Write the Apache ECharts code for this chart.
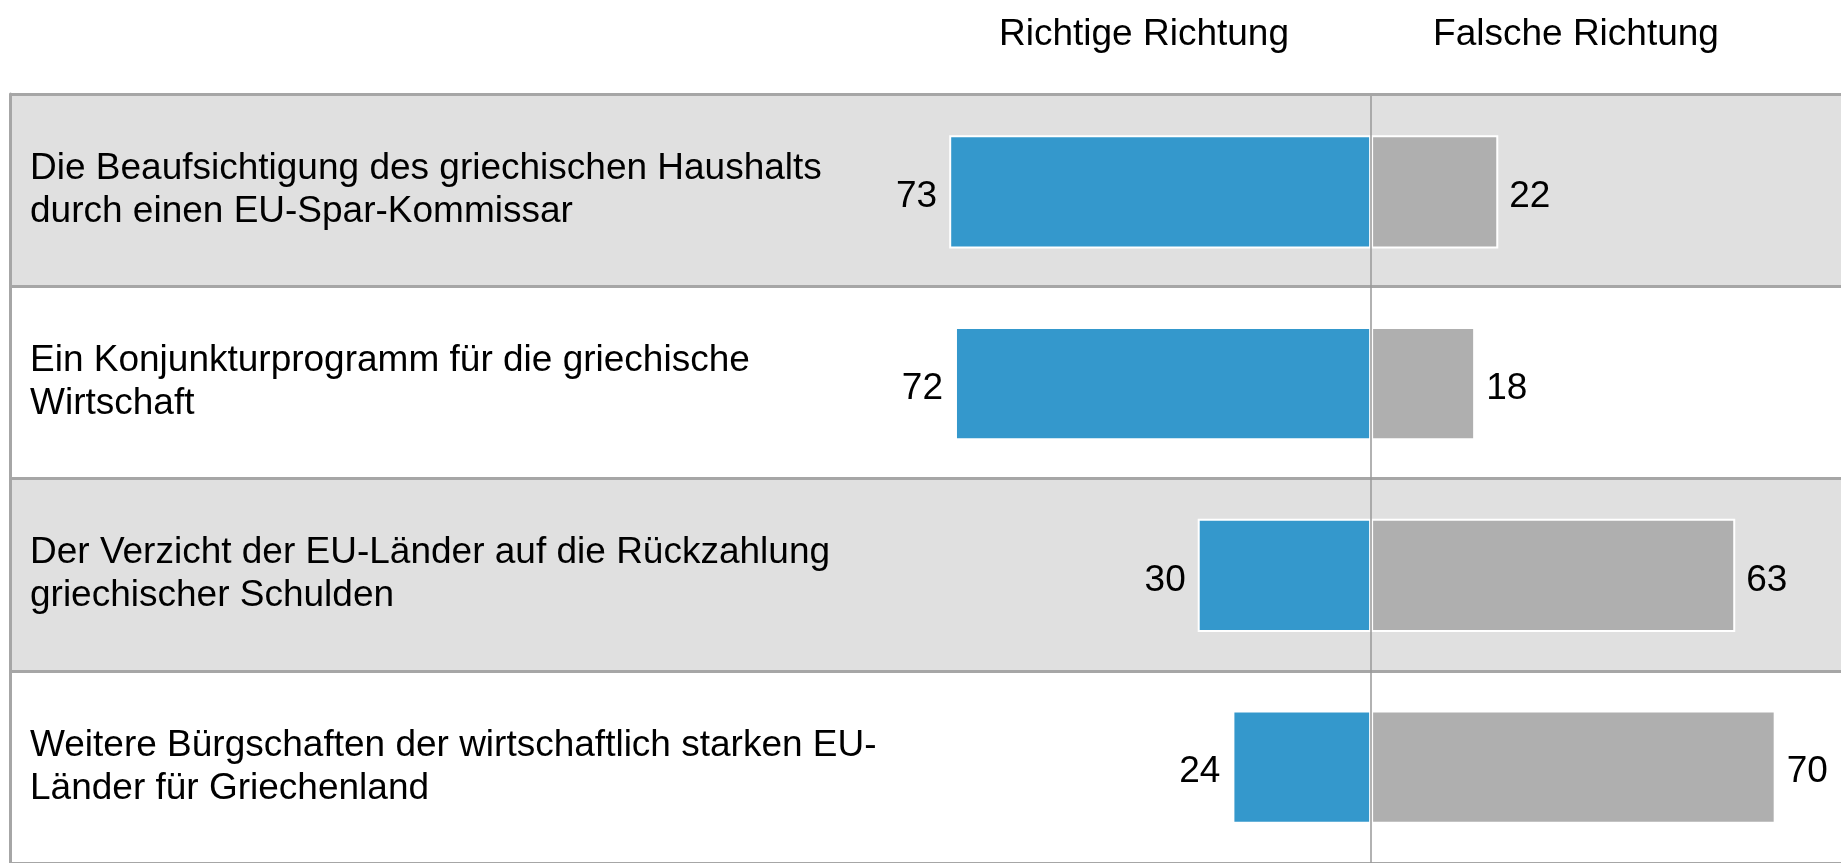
<!DOCTYPE html>
<html>
<head>
<meta charset="utf-8">
<script src="https://cdn.jsdelivr.net/npm/echarts@6/dist/echarts.min.js"></script>
<style>
  html, body { margin: 0; padding: 0; background: #fff; }
  #chart { width: 1841px; height: 863px; }
</style>
</head>
<body>
<div id="chart"></div>
<script>
const categories = [
  'Die Beaufsichtigung des griechischen Haushalts\ndurch einen EU-Spar-Kommissar',
  'Ein Konjunkturprogramm für die griechische\nWirtschaft',
  'Der Verzicht der EU-Länder auf die Rückzahlung\ngriechischer Schulden',
  'Weitere Bürgschaften der wirtschaftlich starken EU-\nLänder für Griechenland'
];
const seriesNames = ['Richtige Richtung', 'Falsche Richtung'];
const richtig = [73, 72, 30, 24];
const falsch = [22, 18, 63, 70];

const font = 'Liberation Sans, Arial, sans-serif';
const lineGray = '#a6a6a6';

let myChart = echarts.init(document.getElementById('chart'));

const numberLabel = {
  show: true,
  fontSize: 37,
  color: '#000',
  fontFamily: font,
  offset: [0, 5]
};

let option = {
  animation: false,
  textStyle: { fontFamily: font },
  grid: [
    // Zeilen (laufen unten aus dem Bild)
    { left: 10, top: 94, width: 1831, height: 772 },
    // Balken, leicht nach unten versetzt wie im Original
    { left: 10, top: 96, width: 1831, height: 772 }
  ],
  xAxis: [
    { type: 'value', gridIndex: 0, min: -235.5, max: 81.3, show: false },
    { type: 'value', gridIndex: 1, min: -235.5, max: 81.3, show: false }
  ],
  yAxis: [
    {
      type: 'category',
      gridIndex: 0,
      inverse: true,
      data: categories,
      axisLine: { show: true, onZero: false, lineStyle: { color: lineGray, width: 3 } },
      axisTick: { show: false },
      axisLabel: {
        inside: true,
        margin: 20,
        fontSize: 37,
        lineHeight: 43,
        padding: [10, 0, 0, 0],
        color: '#000',
        fontFamily: font
      },
      splitLine: { show: true, lineStyle: { color: lineGray, width: 3 } },
      splitArea: { show: true, areaStyle: { color: ['#e0e0e0', '#ffffff'] } }
    },
    {
      type: 'category',
      gridIndex: 1,
      inverse: true,
      data: categories,
      show: false
    }
  ],
  graphic: [
    {
      type: 'text',
      x: 1144,
      y: 35,
      style: { text: seriesNames[0], font: '37px ' + font, fill: '#000', textAlign: 'center', textVerticalAlign: 'middle' }
    },
    {
      type: 'text',
      x: 1576,
      y: 35,
      style: { text: seriesNames[1], font: '37px ' + font, fill: '#000', textAlign: 'center', textVerticalAlign: 'middle' }
    }
  ],
  series: [
    {
      name: seriesNames[0],
      type: 'bar',
      xAxisIndex: 1,
      yAxisIndex: 1,
      stack: 'total',
      barCategoryGap: '41%',
      data: richtig.map(v => -v),
      itemStyle: { color: '#3498cc', borderColor: '#ffffff', borderWidth: 2 },
      label: Object.assign({}, numberLabel, {
        position: 'left',
        distance: 12,
        formatter: p => Math.abs(p.value)
      })
    },
    {
      name: seriesNames[1],
      type: 'bar',
      xAxisIndex: 1,
      yAxisIndex: 1,
      stack: 'total',
      barCategoryGap: '41%',
      data: falsch,
      itemStyle: { color: '#afafaf', borderColor: '#ffffff', borderWidth: 2 },
      label: Object.assign({}, numberLabel, {
        position: 'right',
        distance: 11
      }),
      markLine: {
        silent: true,
        symbol: 'none',
        label: { show: false },
        lineStyle: { color: '#999999', width: 1.5, type: 'solid' },
        data: [{ xAxis: 0 }]
      }
    }
  ]
};
myChart.setOption(option);
</script>
</body>
</html>
